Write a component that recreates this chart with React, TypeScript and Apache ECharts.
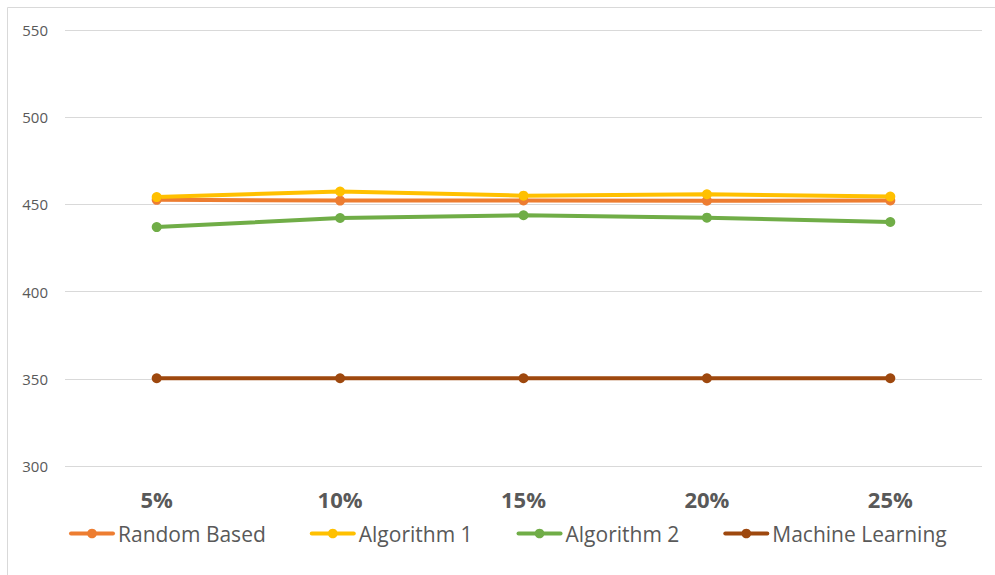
import React, { useEffect, useRef } from "react";
import * as echarts from "echarts";

// Percentage levels along the horizontal axis
const categories = ["5%", "10%", "15%", "20%", "25%"];

// Results per method
const randomBased = [452.6, 452.2, 452.3, 452.1, 452.3];
const algorithm1 = [454.2, 457.4, 455.0, 455.8, 454.5];
const algorithm2 = [437.0, 442.2, 443.8, 442.4, 439.9];
const machineLearning = [350.3, 350.3, 350.3, 350.3, 350.3];

// Value axis range
const yMin = 300;
const yMax = 550;
const yStep = 50;

const FONT = "'Open Sans', 'Noto Sans', sans-serif";
const TEXT = "#595959";

const seriesDefs = [
  { name: "Random Based", data: randomBased, color: "#ED7D31" },
  { name: "Algorithm 1", data: algorithm1, color: "#FFC000" },
  { name: "Algorithm 2", data: algorithm2, color: "#70AD47" },
  { name: "Machine Learning", data: machineLearning, color: "#9E480E" },
];

export default function App() {
  const ref = useRef<HTMLDivElement>(null);

  useEffect(() => {
    if (!ref.current) return;
    const chart = echarts.init(ref.current, undefined, { renderer: "svg" });
    chart.setOption({
      animation: false,
      backgroundColor: "#FFFFFF",
      grid: { left: 65, right: 13, top: 30, bottom: 109, containLabel: false },
      xAxis: {
        type: "category",
        data: categories,
        boundaryGap: true,
        axisLine: { show: false },
        axisTick: { show: false },
        axisLabel: {
          color: TEXT,
          fontFamily: FONT,
          fontSize: 22,
          fontWeight: "bold",
          margin: 22,
        },
      },
      yAxis: {
        type: "value",
        min: yMin,
        max: yMax,
        interval: yStep,
        axisLine: { show: false },
        axisTick: { show: false },
        axisLabel: { color: TEXT, fontFamily: FONT, fontSize: 15, margin: 17 },
        splitLine: { lineStyle: { color: "#D9D9D9", width: 1 } },
      },
      legend: {
        left: 64,
        top: 518,
        itemWidth: 42,
        itemHeight: 12,
        itemGap: 44,
        lineStyle: { width: 4 },
        textStyle: { color: TEXT, fontFamily: FONT, fontSize: 21 },
        data: seriesDefs.map((s) => s.name),
      },
      graphic: [
        {
          type: "rect",
          shape: { x: 7.5, y: 7.5, width: 1000, height: 600 },
          style: { fill: "none", stroke: "#D9D9D9", lineWidth: 1 },
          silent: true,
        },
      ],
      series: seriesDefs.map((s) => ({
        name: s.name,
        type: "line",
        data: s.data,
        symbol: "circle",
        symbolSize: 10,
        lineStyle: { color: s.color, width: 4, cap: "round" },
        itemStyle: { color: s.color },
        emphasis: { disabled: true },
      })),
    });
    return () => chart.dispose();
  }, []);

  return (
    <div
      ref={ref}
      style={{ position: "fixed", left: 0, top: 0, width: 995, height: 575 }}
    />
  );
}
